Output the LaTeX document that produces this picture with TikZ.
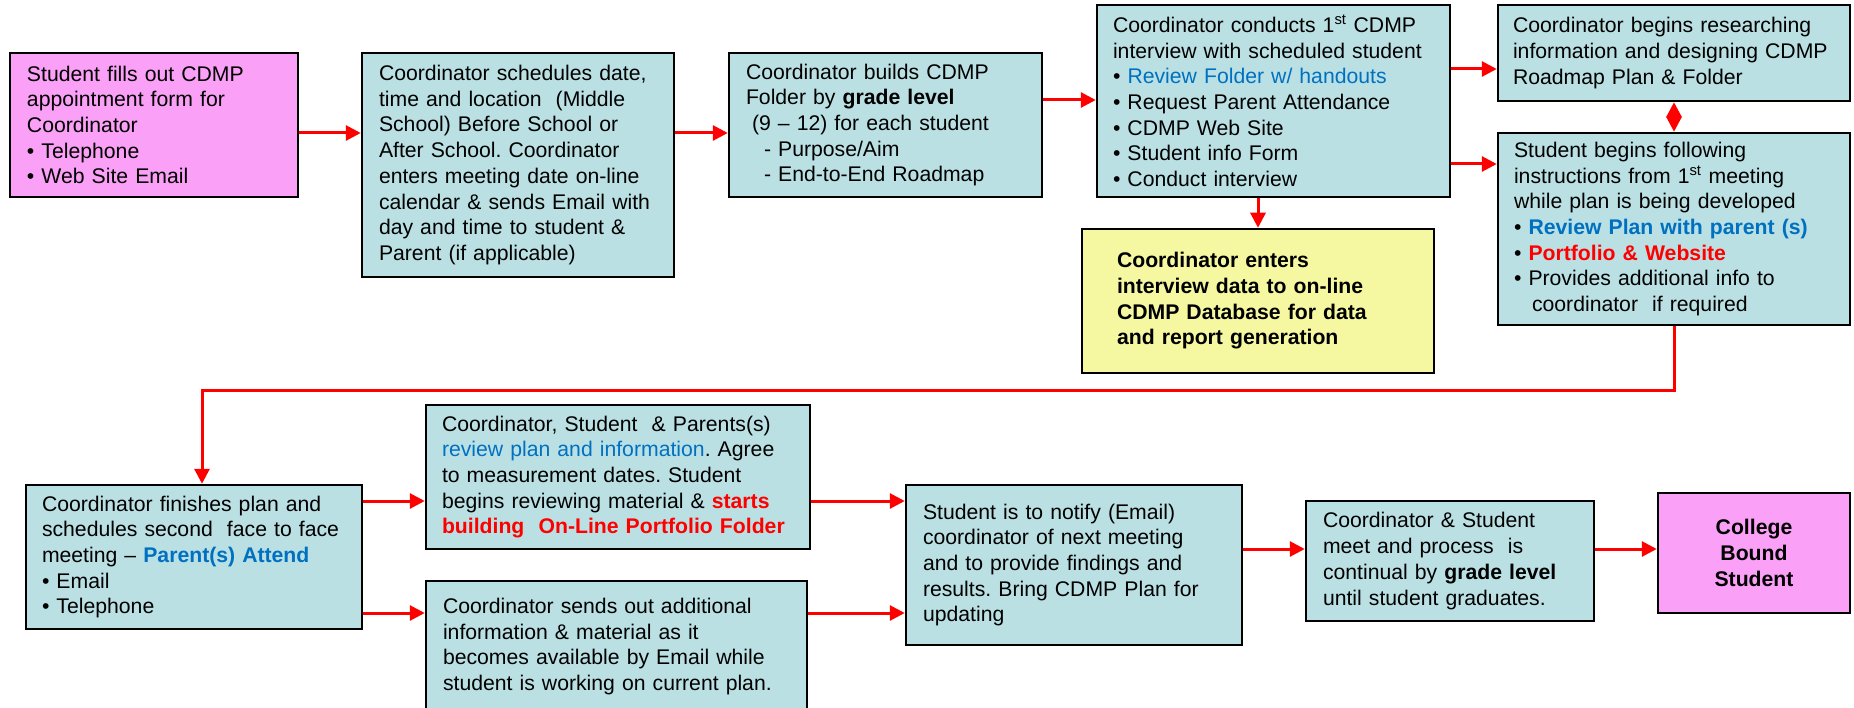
\documentclass[tikz,border=0pt]{standalone}
\usepackage{fontspec}
\setmainfont{Liberation Sans}
\frenchspacing
\usetikzlibrary{arrows.meta}
\definecolor{cdmpblue}{RGB}{186,224,227}
\definecolor{cdmppink}{RGB}{250,160,246}
\definecolor{cdmpyellow}{RGB}{245,248,160}
\definecolor{linkblue}{RGB}{0,112,192}
\begin{document}
\begin{tikzpicture}[x=1pt,y=-1pt,
	box/.style={draw,line width=2.5pt,fill=cdmpblue,align=left,inner sep=0pt,font=\fontsize{21.2pt}{25.7pt}\selectfont},
	pinkbox/.style={box,fill=cdmppink},
	dbbox/.style={box,fill=cdmpyellow,font=\fontsize{21.2pt}{25.7pt}\selectfont\bfseries},
	arr/.style={draw=red,line width=3pt,-{Triangle[length=15pt,width=15pt]}}]
	%folyamatábra
	\useasboundingbox (0,0) rectangle (1854,708);
	\node [pinkbox,minimum width=288,minimum height=144,text width=254] (stud) at (154,125) {Student fills out CDMP\\ appointment form for\\ Coordinator\\ • Telephone\\ • Web Site Email};
	\node [box,minimum width=312,minimum height=224,text width=278] (sched) at (518,165) {Coordinator schedules date,\\ time and location \ (Middle\\ School) Before School or\\ After School. Coordinator\\ enters meeting date on-line\\ calendar \& sends Email with\\ day and time to student \&\\ Parent (if applicable)};
	\node [box,minimum width=313,minimum height=144,text width=279] (folder) at (885.5,125) {Coordinator builds CDMP\\ Folder by \textbf{grade level}\\ \hspace*{6pt}(9 – 12) for each student\\ \hspace*{18pt}- Purpose/Aim\\ \hspace*{18pt}- End-to-End Roadmap};
	\node [box,minimum width=353,minimum height=192,text width=321] (intv) at (1273.5,101) {Coordinator conducts 1\textsuperscript{st} CDMP\\ interview with scheduled student\\ • {\color{linkblue}Review Folder w/ handouts}\\ • Request Parent Attendance\\ • CDMP Web Site\\ • Student info Form\\ • Conduct interview};
	\node [dbbox,minimum width=352,minimum height=144,text width=282] (db) at (1258,301) {Coordinator enters\\ interview data to on-line\\ CDMP Database for data\\ and report generation};
	\node [box,minimum width=352,minimum height=96,text width=322] (res) at (1674,53) {Coordinator begins researching\\ information and designing CDMP\\ Roadmap Plan \& Folder};
	\node [box,minimum width=352,minimum height=192,text width=320] (follow) at (1674,229) {Student begins following\\ instructions from 1\textsuperscript{st} meeting\\ while plan is being developed\\ • {\bfseries\color{linkblue}Review Plan with parent (s)}\\ • {\bfseries\color{red}Portfolio \& Website}\\ • Provides additional info to\\ \hspace*{18pt}coordinator \ if required};
	\node [box,minimum width=336,minimum height=144,text width=304] (finish) at (194,557) {Coordinator finishes plan and\\ schedules second \ face to face\\ meeting – {\bfseries\color{linkblue}Parent(s) Attend}\\ • Email\\ • Telephone};
	\node [box,minimum width=384,minimum height=144,text width=352] (review) at (618,477) {Coordinator, Student \ \& Parents(s)\\ {\color{linkblue}review plan and information}. Agree\\ to measurement dates. Student\\ begins reviewing material \& {\bfseries\color{red}starts}\\ {\bfseries\color{red}building \ On-Line Portfolio Folder}};
	\node [box,minimum width=381,minimum height=131,text width=347] (sends) at (616.5,646.5) {Coordinator sends out additional\\ information \& material as it\\ becomes available by Email while\\ student is working on current plan.};
	\node [box,minimum width=336,minimum height=160,text width=302] (notify) at (1074,565) {Student is to notify (Email)\\ coordinator of next meeting\\ and to provide findings and\\ results. Bring CDMP Plan for\\ updating};
	\node [box,minimum width=288,minimum height=120,text width=254] (meet) at (1450,561) {Coordinator \& Student\\ meet and process \ is\\ continual by \textbf{grade level}\\ until student graduates.};
	\node [pinkbox,align=center,font=\fontsize{21.2pt}{25.7pt}\selectfont\bfseries,minimum width=192,minimum height=120] (college) at (1754,553) {College\\ Bound\\ Student};
	%nyilak
	\draw [arr] ([yshift=-8pt]stud.east) -- ([yshift=-8pt]stud.east -| sched.west);
	\draw [arr] ([yshift=-8pt]folder.west -| sched.east) -- ([yshift=-8pt]folder.west);
	\draw [arr] ([yshift=25pt]folder.east) -- ([yshift=25pt]folder.east -| intv.west);
	\draw [arr] ([yshift=-16pt]res.west -| intv.east) -- ([yshift=-16pt]res.west);
	\draw [arr] ([yshift=65pt]follow.west -| intv.east) -- ([yshift=65pt]follow.west);
	\draw [arr] (db.north |- intv.south) -- (db.north);
	\draw [arr,{Triangle[length=15pt,width=15pt]}-{Triangle[length=15pt,width=15pt]}] (res.south) -- (follow.north);
	\draw [arr] (follow.south) -- ++(0,64) -| ([xshift=8pt]finish.north);
	\draw [arr] ([yshift=-24pt]review.west -| finish.east) -- ([yshift=-24pt]review.west);
	\draw [arr] ([yshift=-56pt]finish.east) -- ([yshift=-56pt]finish.east -| sends.west);
	\draw [arr] ([yshift=64pt]notify.west -| review.east) -- ([yshift=64pt]notify.west);
	\draw [arr] ([yshift=-48pt]notify.west -| sends.east) -- ([yshift=-48pt]notify.west);
	\draw [arr] ([yshift=12pt]meet.west -| notify.east) -- ([yshift=12pt]meet.west);
	\draw [arr] ([yshift=4pt]college.west -| meet.east) -- ([yshift=4pt]college.west);
\end{tikzpicture}
\end{document}
